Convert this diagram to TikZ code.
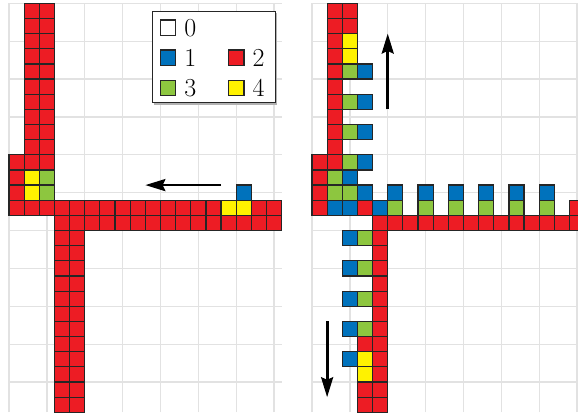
\documentclass[tikz,border=0pt]{standalone}
\usetikzlibrary{arrows.meta}
\definecolor{cred}{RGB}{237,28,36}
\definecolor{cblue}{RGB}{0,114,188}
\definecolor{cgreen}{RGB}{141,198,63}
\definecolor{cyellow}{RGB}{255,242,0}
\definecolor{gridgray}{RGB}{226,226,226}
\begin{document}
\begin{tikzpicture}[x=0.4cm,y=0.4cm,
  gridline/.style={draw=gridgray,line width=1pt},
  cellbox/.style={draw=black!85,line width=0.9pt},
  redcell/.style={cellbox,fill=cred},
  bluecell/.style={cellbox,fill=cblue},
  greencell/.style={cellbox,fill=cgreen},
  yellowcell/.style={cellbox,fill=cyellow},
  keysq/.style={cellbox,line width=1pt,minimum size=0.41cm,inner sep=0pt},
  keytxt/.style={anchor=west,inner sep=0pt,font=\fontsize{19.5}{23}\selectfont},
  movearrow/.style={line width=2.1pt,-{Stealth[length=15pt,width=9pt,inset=2pt]}}]
\useasboundingbox (-0.594,0.218) rectangle (37.56,-27.11);
\clip (-0.594,0.218) rectangle (37.56,-27.11);
% grids
\draw[gridline] (0,0) grid (18,-27);
\draw[gridline] (20,0) grid (38,-27);
% ---------- left panel ----------
\foreach \r in {0,...,10} {\foreach \c in {1,2} {\draw[redcell] (\c,-\r) rectangle ++(1,-1);}}
\foreach \r in {10,...,13} {\draw[redcell] (0,-\r) rectangle ++(1,-1);}
\foreach \c in {1,...,13,16,17} {\draw[redcell] (\c,-13) rectangle ++(1,-1);}
\foreach \c in {3,...,17} {\draw[redcell] (\c,-14) rectangle ++(1,-1);}
\foreach \r in {15,...,26} {\foreach \c in {3,4} {\draw[redcell] (\c,-\r) rectangle ++(1,-1);}}
\foreach \c/\r in {1/11,1/12,14/13,15/13} {\draw[yellowcell] (\c,-\r) rectangle ++(1,-1);}
\foreach \c/\r in {2/11,2/12} {\draw[greencell] (\c,-\r) rectangle ++(1,-1);}
\foreach \c/\r in {15/12} {\draw[bluecell] (\c,-\r) rectangle ++(1,-1);}
% ---------- right panel ----------
\foreach \r in {0,...,10} {\draw[redcell] (21,-\r) rectangle ++(1,-1);}
\foreach \r in {0,1} {\draw[redcell] (22,-\r) rectangle ++(1,-1);}
\foreach \r in {10,...,13} {\draw[redcell] (20,-\r) rectangle ++(1,-1);}
\foreach \c/\r in {23/13,37/13,23/22,23/25,23/26} {\draw[redcell] (\c,-\r) rectangle ++(1,-1);}
\foreach \c in {24,...,37} {\draw[redcell] (\c,-14) rectangle ++(1,-1);}
\foreach \r in {15,...,26} {\draw[redcell] (24,-\r) rectangle ++(1,-1);}
\foreach \c/\r in {22/2,22/3,23/23,23/24} {\draw[yellowcell] (\c,-\r) rectangle ++(1,-1);}
\foreach \c/\r in {22/4,22/6,22/8,22/10,21/11,21/12,22/12,25/13,27/13,29/13,31/13,33/13,35/13,23/15,23/17,23/19,23/21} {\draw[greencell] (\c,-\r) rectangle ++(1,-1);}
\foreach \c/\r in {23/4,23/6,23/8,23/10,22/11,23/12,21/13,22/13,24/13,25/12,27/12,29/12,31/12,33/12,35/12,22/15,22/17,22/19,22/21,22/23} {\draw[bluecell] (\c,-\r) rectangle ++(1,-1);}
% ---------- legend ----------
\fill[black!30] (9.6,-0.67) rectangle (17.7,-6.68);
\draw[fill=white,draw=black!85,line width=0.8pt] (9.5,-0.55) rectangle (17.6,-6.56);
\node[keysq,fill=white] (k0) at (10.5,-1.62) {};
\node[keysq,fill=cblue] (k1) at (10.5,-3.6) {};
\node[keysq,fill=cred] (k2) at (15.0,-3.6) {};
\node[keysq,fill=cgreen] (k3) at (10.5,-5.59) {};
\node[keysq,fill=cyellow] (k4) at (15.0,-5.59) {};
\node[keytxt] (t0) at ([xshift=0.2cm]k0.east) {0};
\node[keytxt] (t1) at ([xshift=0.2cm]k1.east) {1};
\node[keytxt] (t2) at ([xshift=0.2cm]k2.east) {2};
\node[keytxt] (t3) at ([xshift=0.2cm]k3.east) {3};
\node[keytxt] (t4) at ([xshift=0.2cm]k4.east) {4};
% ---------- arrows ----------
\coordinate (la) at (14,-12);
\coordinate (lb) at (9,-12);
\coordinate (ua) at (25,-7);
\coordinate (ub) at (25,-2);
\coordinate (da) at (21,-21);
\coordinate (db) at (21,-26);
\draw[movearrow] (la) -- (lb);
\draw[movearrow] (ua) -- (ub);
\draw[movearrow] (da) -- (db);
\end{tikzpicture}
\end{document}
